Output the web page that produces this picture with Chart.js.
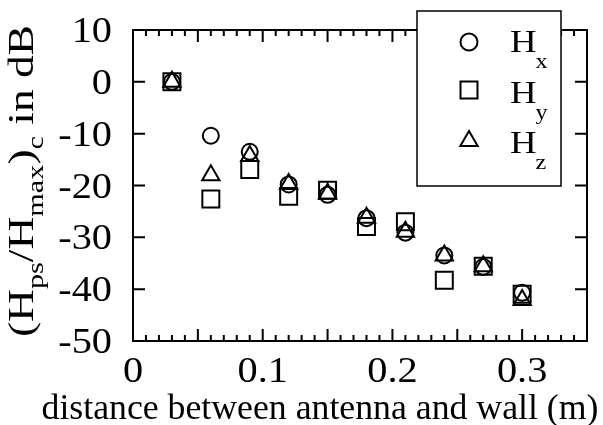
<!DOCTYPE html>
<html>
<head>
<meta charset="utf-8">
<script src="https://cdn.jsdelivr.net/npm/chart.js@4/dist/chart.umd.min.js"></script>
<style>
  html, body { margin: 0; padding: 0; background: #fff; }
</style>
</head>
<body>
<canvas id="c" width="603" height="425"></canvas>
<script>
// distance between antenna and wall (m)
const distance = [0.03, 0.06, 0.09, 0.12, 0.15, 0.18, 0.21, 0.24, 0.27, 0.30];
// (Hps/Hmax)c in dB for each component
const hx = [0, -10.4, -13.5, -19.8, -21.8, -26.3, -29.1, -33.5, -35.7, -40.7];
const hy = [0, -22.6, -16.9, -22.1, -20.9, -27.9, -27.0, -38.3, -35.6, -41.0];
const hz = [0, -18.0, -14.3, -19.7, -21.6, -26.2, -28.9, -33.5, -35.6, -42.1];

// tick labels
const xTickLabels = ["0", "0.1", "0.2", "0.3"];
const yTickLabels = ["10", "0", "-10", "-20", "-30", "-40", "-50"];

const FONT = '"Liberation Serif"';

const toPoints = (ys) => distance.map((d, i) => ({ x: d, y: ys[i] }));

// draws text stretched sideways, like in the original figure
function stretchText(ctx, s, x, y, size, align, sx) {
  ctx.save();
  ctx.font = size + "px " + FONT;
  const w = ctx.measureText(s).width * sx;
  let left = x;
  if (align === "center") left = x - w / 2;
  if (align === "right") left = x - w;
  ctx.translate(left, y);
  ctx.scale(sx, 1);
  ctx.textAlign = "left";
  ctx.textBaseline = "alphabetic";
  ctx.fillStyle = "#000";
  ctx.fillText(s, 0, 0);
  ctx.restore();
  return w;
}

function marker(ctx, style, radius, x, y) {
  ctx.save();
  ctx.strokeStyle = "#000";
  ctx.fillStyle = "rgba(0,0,0,0)";
  ctx.lineWidth = 2;
  Chart.helpers.drawPoint(ctx, { pointStyle: style, radius: radius, rotation: 0, borderWidth: 2 }, x, y);
  ctx.restore();
}

const framePlugin = {
  id: "frame",
  afterDraw(chart) {
    const ctx = chart.ctx;
    const a = chart.chartArea;
    const xs = chart.scales.x;
    const ys = chart.scales.y;

    ctx.save();
    ctx.strokeStyle = "#000";
    ctx.lineWidth = 2;
    ctx.strokeRect(a.left, a.top, a.right - a.left, a.bottom - a.top);

    // inward ticks on bottom and top
    ctx.beginPath();
    xs.ticks.forEach((t) => {
      const px = xs.getPixelForValue(t.value);
      const major = Math.abs(t.value * 20 - Math.round(t.value * 20)) < 1e-6;
      const len = major ? 12 : 6;
      ctx.moveTo(px, a.bottom);
      ctx.lineTo(px, a.bottom - len);
      ctx.moveTo(px, a.top);
      ctx.lineTo(px, a.top + len);
    });
    // inward ticks on left and right
    ys.ticks.forEach((t) => {
      const py = ys.getPixelForValue(t.value);
      ctx.moveTo(a.left, py);
      ctx.lineTo(a.left + 12, py);
      ctx.moveTo(a.right, py);
      ctx.lineTo(a.right - 12, py);
    });
    ctx.stroke();

    // tick labels
    xs.ticks.forEach((t) => {
      if (!t.label) return;
      stretchText(ctx, t.label, xs.getPixelForValue(t.value), 382, 36, "center", 1.12);
    });
    ys.ticks.forEach((t) => {
      if (!t.label) return;
      stretchText(ctx, t.label, 112, ys.getPixelForValue(t.value) + 12, 36, "right", 1.12);
    });

    // x title
    ctx.font = "36px " + FONT;
    const xt = "distance between antenna and wall (m)";
    const sxT = 557 / ctx.measureText(xt).width;
    stretchText(ctx, xt, 320, 419, 36, "center", sxT);

    // y title, rotated, with subscripts
    const parts = [
      ["(H", 36, 0], ["ps", 24, 10], ["/H", 36, 0], ["max", 24, 10],
      [")", 36, 0], ["c", 24, 10], [" in dB", 36, 0]
    ];
    let total = 0;
    parts.forEach((p) => { ctx.font = p[1] + "px " + FONT; total += ctx.measureText(p[0]).width; });
    const syT = 312 / total;
    ctx.save();
    ctx.translate(33, 337);
    ctx.rotate(-Math.PI / 2);
    let pos = 0;
    parts.forEach((p) => {
      pos += stretchText(ctx, p[0], pos, p[2], p[1], "left", syT);
    });
    ctx.restore();

    // legend box
    ctx.fillStyle = "#fff";
    ctx.fillRect(417, 11, 144, 175);
    ctx.lineWidth = 1.5;
    ctx.strokeRect(417, 11, 144, 175);
    const rows = [
      ["circle", 8.5, 42, "x"],
      ["rect", 12, 90, "y"],
      ["triangle", 10, 141, "z"]
    ];
    rows.forEach((r, i) => {
      marker(ctx, r[0], r[1], 469, r[2]);
      const base = 52 + i * 50.5;
      const w = stretchText(ctx, "H", 510, base, 32, "left", 1.15);
      stretchText(ctx, r[3], 509 + w, base + 16, 22, "left", 1.1);
    });
    ctx.restore();
  }
};

const pointSet = (label, ys, style, radius) => ({
  label: label,
  data: toPoints(ys),
  pointStyle: style,
  pointRadius: radius,
  pointHoverRadius: radius,
  pointBorderWidth: 2,
  borderColor: "#000",
  backgroundColor: "rgba(0,0,0,0)",
  showLine: false
});

new Chart(document.getElementById("c").getContext("2d"), {
  type: "scatter",
  data: {
    datasets: [
      pointSet("Hx", hx, "circle", 8),
      pointSet("Hy", hy, "rect", 12),
      pointSet("Hz", hz, "triangle", 10)
    ]
  },
  options: {
    responsive: false,
    animation: false,
    layout: { padding: { left: 125, right: 16, top: 30, bottom: 76 } },
    plugins: { legend: { display: false }, tooltip: { enabled: false } },
    scales: {
      x: {
        type: "linear",
        min: 0,
        max: 0.35,
        grid: { display: false },
        border: { display: false },
        ticks: {
          display: false,
          stepSize: 0.01,
          maxTicksLimit: 100,
          callback: (v) => {
            const lbl = xTickLabels.find((s) => Math.abs(parseFloat(s) - v) < 1e-6);
            return lbl || "";
          }
        }
      },
      y: {
        min: -50,
        max: 10,
        grid: { display: false },
        border: { display: false },
        ticks: {
          display: false,
          stepSize: 10,
          callback: (v) => yTickLabels.find((s) => parseFloat(s) === v) || ""
        }
      }
    }
  },
  plugins: [framePlugin]
});
</script>
</body>
</html>
